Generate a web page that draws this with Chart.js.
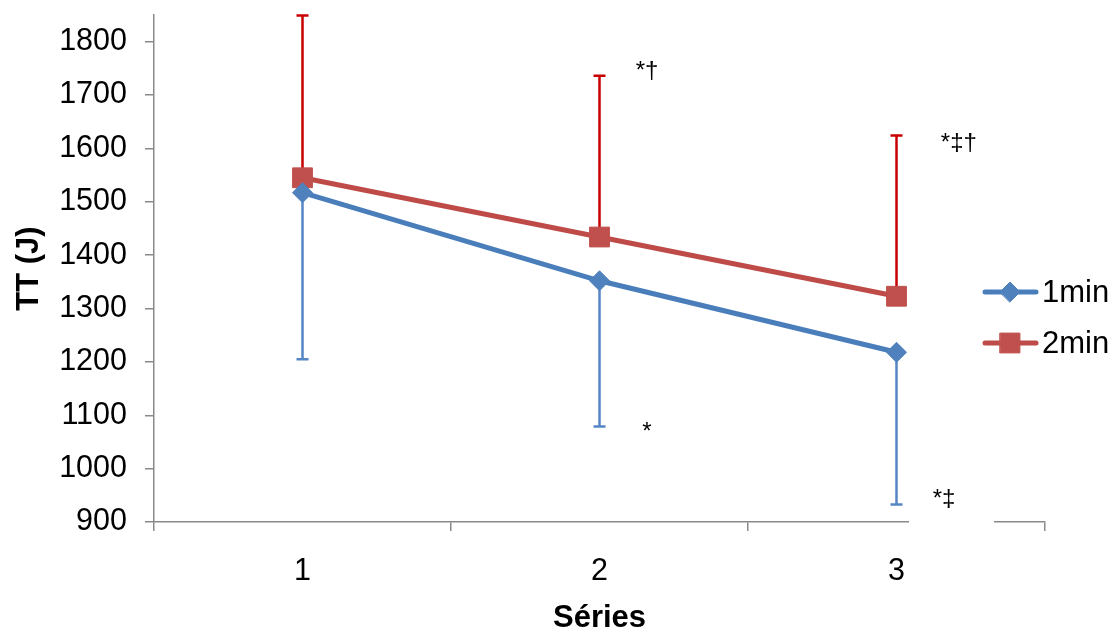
<!DOCTYPE html>
<html>
<head>
<meta charset="utf-8">
<script src="https://cdn.jsdelivr.net/npm/chart.js@4/dist/chart.umd.min.js"></script>
<style>
  html, body { margin: 0; padding: 0; background: #fff; }
  #wrap { width: 1114px; height: 630px; }
</style>
</head>
<body>
<div id="wrap"><canvas id="ttChart"></canvas></div>
<script>
// Chart data
const seriesLabels = ['1', '2', '3'];
const oneMin = [1517, 1352, 1218];
const twoMin = [1545, 1434, 1323];
// error bar ends: 1min goes down, 2min goes up
const oneMinLow = [1205, 1079, 933];
const twoMinHigh = [1849, 1736, 1624];
// significance marks (category index, value)
const markLabels = ['*\u2020', '*\u2021\u2020', '*', '*\u2021'];
const markX = [1.16, 2.21, 1.16, 2.16];
const markY = [1744, 1610, 1068, 943];
const yTicks = [900, 1000, 1100, 1200, 1300, 1400, 1500, 1600, 1700, 1800];

const FONT = "'Liberation Sans', Arial, sans-serif";
const axisGray = '#898989';
const blueLine = '#4A7EBB', blueFill = '#4F81BD', blueErr = '#5585C5';
const redLine = '#BE4B48', redFill = '#C0504D', redErr = '#C80000';

// Error bars, drawn under the lines
const errorBars = {
    id: 'errorBars',
    beforeDatasetsDraw(chart) {
        const { ctx, scales: { x, y } } = chart;
        const draw = (ends, mids, color) => {
            ctx.save();
            ctx.strokeStyle = color;
            ctx.lineWidth = 2.5;
            ends.forEach((v, i) => {
                const px = x.getPixelForValue(i);
                const y0 = y.getPixelForValue(mids[i]);
                const y1 = y.getPixelForValue(v);
                ctx.beginPath();
                ctx.moveTo(px, y0);
                ctx.lineTo(px, y1);
                ctx.moveTo(px - 6, y1);
                ctx.lineTo(px + 6, y1);
                ctx.stroke();
            });
            ctx.restore();
        };
        draw(oneMinLow, oneMin, blueErr);
        draw(twoMinHigh, twoMin, redErr);
    }
};

// Significance marks and the legend (Excel style line + marker)
const extras = {
    id: 'extras',
    afterDraw(chart) {
        const { ctx, scales: { x, y } } = chart;
        ctx.save();
        ctx.font = '24px ' + FONT;
        ctx.textAlign = 'center';
        ctx.textBaseline = 'middle';
        markLabels.forEach((t, i) => {
            const cx = x.getPixelForValue(markX[i]);
            const cy = y.getPixelForValue(markY[i]);
            ctx.fillStyle = '#fff';
            ctx.fillRect(cx - 35, cy - 20, 85, 46);
            ctx.fillStyle = '#000';
            ctx.fillText(t, cx, cy);
        });

        // legend
        const items = [
            { text: '1min', line: blueLine, fill: blueFill, style: 'rectRot', r: 10, y: 292 },
            { text: '2min', line: redLine, fill: redFill, style: 'rect', r: 14, y: 343 }
        ];
        items.forEach(it => {
            ctx.strokeStyle = it.line;
            ctx.lineWidth = 5;
            ctx.lineCap = 'round';
            ctx.beginPath();
            ctx.moveTo(985, it.y);
            ctx.lineTo(1036, it.y);
            ctx.stroke();
            ctx.fillStyle = it.fill;
            ctx.strokeStyle = it.fill;
            ctx.lineWidth = 1;
            Chart.helpers.drawPoint(ctx, { pointStyle: it.style, radius: it.r, borderWidth: 1 }, 1010, it.y);
            ctx.fillStyle = '#000';
            ctx.font = '31px ' + FONT;
            ctx.textAlign = 'left';
            ctx.fillText(it.text, 1042, it.y + 1);
        });
        ctx.restore();
    }
};

new Chart(document.getElementById('ttChart'), {
    type: 'line',
    data: {
        labels: seriesLabels,
        datasets: [
            {
                label: '1min',
                data: oneMin,
                borderColor: blueLine,
                backgroundColor: blueFill,
                pointBackgroundColor: blueFill,
                pointBorderColor: blueFill,
                borderWidth: 5,
                pointStyle: 'rectRot',
                pointRadius: 10,
                pointBorderWidth: 1,
                tension: 0
            },
            {
                label: '2min',
                data: twoMin,
                borderColor: redLine,
                backgroundColor: redFill,
                pointBackgroundColor: redFill,
                pointBorderColor: redFill,
                borderWidth: 5,
                pointStyle: 'rect',
                pointRadius: 14,
                pointBorderWidth: 1,
                tension: 0
            }
        ]
    },
    options: {
        responsive: true,
        maintainAspectRatio: false,
        animation: false,
        layout: { padding: { top: 15, right: 69, left: 0, bottom: 0 } },
        plugins: {
            legend: { display: false },
            tooltip: { enabled: false }
        },
        scales: {
            x: {
                offset: true,
                grid: { offset: true, drawOnChartArea: false, tickLength: 9, color: axisGray, lineWidth: 1.5 },
                border: { color: axisGray, width: 1.5 },
                ticks: { color: '#000', font: { family: FONT, size: 30.5 }, padding: 22 },
                title: {
                    display: true,
                    text: 'Séries',
                    color: '#000',
                    font: { family: FONT, size: 31, weight: 'bold', lineHeight: 0.75 },
                    padding: { top: 0, bottom: 0 }
                },
                afterFit(scale) {
                    scale.height = 108;
                    scale.paddingLeft = 0;
                    scale.paddingRight = 0;
                }
            },
            y: {
                min: 900,
                max: 1850,
                afterBuildTicks(scale) { scale.ticks = yTicks.map(v => ({ value: v })); },
                grid: { drawOnChartArea: false, tickLength: 9, color: axisGray, lineWidth: 1.5 },
                border: { color: axisGray, width: 1.5 },
                ticks: {
                    color: '#000',
                    font: { family: FONT, size: 30.5 },
                    padding: 18,
                    callback: v => String(v)
                },
                title: {
                    display: true,
                    text: 'TT (J)',
                    color: '#000',
                    font: { family: FONT, size: 31, weight: 'bold' },
                    padding: { top: 11, bottom: 0 }
                },
                afterFit(scale) {
                    scale.width = 154;
                    scale.paddingTop = 0;
                    scale.paddingBottom = 0;
                }
            }
        }
    },
    plugins: [errorBars, extras]
});
</script>
</body>
</html>
